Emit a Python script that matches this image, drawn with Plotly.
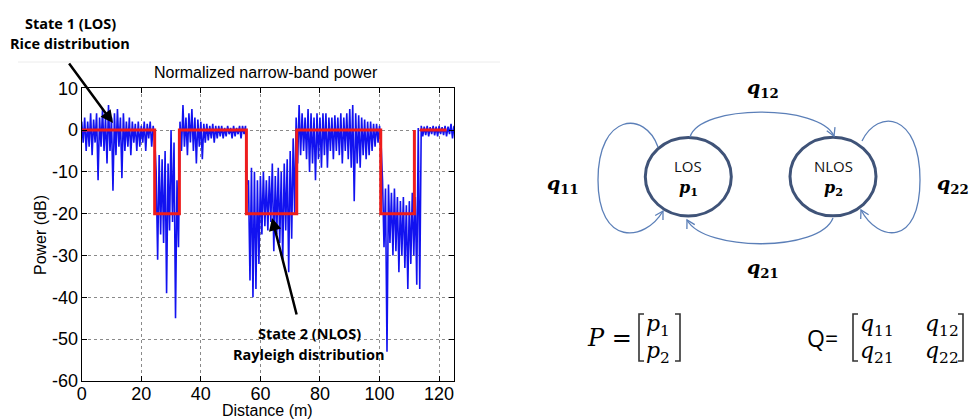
import math
import plotly.graph_objects as go

# ---------------- data ----------------
dist = list(range(0, 126))  # metres
hi = [2, 3, 2, 4, 2.5, 4, 3, 5, 3, 6, 3, 4, 5, 3, 4, 2, 3, 2, 1.5, 2, 1, 2, 1.5, 2, 1,
      -10, -6, -7, -5, -8, 0, -3, -12,
      2, 6, 3, 4, 5, 3, 2.5, 2, 1.5, 1.5, 1, 1.5, 1, 1, 1, 0.5, 1, 0.5, 1, 0.5, 1, 1, 1,
      -12, -9, -10, -12, -11, -10, -12, -11, -8, -11, -9, -10, -8, -7, -5, -2,
      3, 6, 4, 3, 5, 4, 3, 4, 3, 4, 4, 3, 3, 3.5, 3, 4, 3, 4, 5, 6, 4, 3.5, 3, 2.5, 2, 2, 1.5, 1.5, 1,
      -12, -14, -13, -15, -14, -16, -17, -16, -18, -17, -15, -16,
      0.5, 1, 0.8, 1, 0.7, 1, 0.8, 1, 0.7, 1, 0.8, 1.5, 1]
lo = [-3, -5, -4, -6, -3, -12, -4, -5, -8, -5, -14.5, -6, -4, -11.5, -5, -4, -6, -3, -5, -4, -3, -5, -2, -4, -2,
      -31, -25, -27, -39, -24, -22, -45, -28,
      -5, -4, -6, -3, -5, -8, -4, -7, -3, -2.5, -2, -3, -2, -1.5, -2, -1.5, -1, -2, -1.5, -1, -2, -1, -13,
      -36, -40, -38, -32, -25, -23, -24, -22, -29, -25, -27, -31, -24, -34, -26, -20,
      -8, -6, -5, -7, -10, -8, -12, -7, -9, -6, -9, -5, -7, -5, -6, -8, -5, -7, -9, -17, -8, -9, -6, -7, -6, -5, -4, -3, -3,
      -28, -53, -27, -30, -29, -34, -30, -33, -38, -32, -30, -37,
      -38, -1.5, -1.2, -1.5, -1, -1.3, -1.5, -1, -1.2, -1.5, -1, -2, -1.5]

# state model (red step line): change points and levels
state_x = [0, 24.5, 32.8, 55.3, 72.2, 100.4, 111.7, 113.5, 122.5]
state_level = [0, -20, 0, -20, 0, -20, 0, 0]

x_ticks = [0, 20, 40, 60, 80, 100, 120]
y_ticks = [-60, -50, -40, -30, -20, -10, 0, 10]
y_tick_labels = ["-60", "-50", "-40", "-30", "-20", "-10", "0", "10"]

# ---------------- build traces ----------------
zx, zy = [], []
for d, h, l in zip(dist, hi, lo):
    zx += [d, d + 0.5]
    zy += [h, l]

rx, ry = [], []
for i, lev in enumerate(state_level):
    x0, x1 = state_x[i], state_x[i + 1]
    if i == 6:  # final rise then a small gap before last segment
        rx += [x0, None]
        ry += [lev, None]
        continue
    if rx and rx[-1] is not None:
        rx.append(x0); ry.append(lev)
    rx += [x0, x1]
    ry += [lev, lev]

fig = go.Figure()
fig.add_trace(go.Scatter(x=zx, y=zy, mode="lines",
                         line=dict(color="#1212f0", width=1.6), hoverinfo="skip"))
fig.add_trace(go.Scatter(x=rx, y=ry, mode="lines",
                         line=dict(color="#ee1c1c", width=3), hoverinfo="skip"))

W, H = 971, 419
def px(x): return x / W
def py(y): return 1 - y / H

ax_left, ax_right, ax_top, ax_bot = 81.7, 454.0, 88.2, 381.0

fig.update_layout(
    width=W, height=H, margin=dict(l=0, r=0, t=0, b=0, autoexpand=False),
    paper_bgcolor="white", plot_bgcolor="white", showlegend=False,
    font=dict(family="Liberation Sans, Arial", color="black"),
    xaxis=dict(domain=[px(ax_left), px(ax_right)], range=[0, 125], tickvals=x_ticks,
               automargin=False, ticklabelstandoff=-4,
               showline=True, linecolor="black", linewidth=1, mirror="ticks",
               ticks="inside", ticklen=5, tickcolor="black",
               showgrid=True, gridcolor="#8a8a8a", griddash="dot", gridwidth=1,
               zeroline=False, tickfont=dict(size=18)),
    yaxis=dict(domain=[py(ax_bot), py(ax_top)], range=[-60, 10], tickvals=y_ticks,
               ticktext=y_tick_labels, automargin=False, ticklabelstandoff=-1,
               showline=True, linecolor="black", linewidth=1, mirror="ticks",
               ticks="inside", ticklen=5, tickcolor="black",
               showgrid=True, gridcolor="#8a8a8a", griddash="dot", gridwidth=1,
               zeroline=False, tickfont=dict(size=18)),
)

shapes = []
annotations = []

def note(x, y, text, font, xanchor="center", angle=0):
    annotations.append(dict(xref="paper", yref="paper", x=px(x), y=py(y), text=text,
                            showarrow=False, font=font, xanchor=xanchor, yanchor="middle",
                            textangle=angle))

# axis titles
note(267, 410, "Distance (m)", dict(size=16, family="Liberation Sans, Arial", color="black"))
note(40, 235, "Power (dB)", dict(size=16, family="Liberation Sans, Arial", color="black"), angle=-90)

# faint border line of the original matlab figure
shapes.append(dict(type="line", xref="paper", yref="paper", x0=px(18), x1=px(500),
                   y0=py(62), y1=py(62), line=dict(color="#ececec", width=1)))

note(266, 72, "Normalized narrow-band power", dict(size=16, family="Liberation Sans, Arial", color="black"))

bold_font = dict(size=14.5, family="Open Sans", color="black")
note(70, 23, "<b>State 1 (LOS)</b>", bold_font)
note(70, 44, "<b>Rice distribution</b>", bold_font)
note(309, 333, "<b>State 2 (NLOS)</b>", bold_font)
note(309, 354, "<b>Rayleigh distribution</b>", bold_font)

# pointer arrows
annotations.append(dict(xref="paper", yref="paper", x=px(113), y=py(123), text="",
                        showarrow=True, arrowhead=2, arrowsize=1, arrowwidth=2.5,
                        arrowcolor="black", ax=68 - 113, ay=62 - 123))
annotations.append(dict(xref="paper", yref="paper", x=px(272), y=py(218), text="",
                        showarrow=True, arrowhead=2, arrowsize=1, arrowwidth=2.5,
                        arrowcolor="black", ax=297 - 272, ay=316 - 218))

# ---------------- state diagram ----------------
def P(x, y):
    return f"{px(x):.5f},{py(y):.5f}"

def chevron(tip, frm, length=9, ang=30):
    dx, dy = tip[0] - frm[0], tip[1] - frm[1]
    n = math.hypot(dx, dy)
    bx, by = -dx / n, -dy / n
    pts = []
    for s in (1, -1):
        a = math.radians(ang * s)
        cx = bx * math.cos(a) - by * math.sin(a)
        cy = bx * math.sin(a) + by * math.cos(a)
        pts.append((tip[0] + cx * length, tip[1] + cy * length))
    return f"M {P(*pts[0])} L {P(*tip)} L {P(*pts[1])}"

arc_col = "#5b7fb8"
ring_col = "#3f5378"

# circles
for cx, cy in [(688.3, 176.7), (833.0, 176.5)]:
    shapes.append(dict(type="circle", xref="paper", yref="paper",
                       x0=px(cx - 43), x1=px(cx + 43), y0=py(cy + 39.3), y1=py(cy - 39.3),
                       line=dict(color=ring_col, width=3), fillcolor="rgba(0,0,0,0)"))

arcs = [
    # (start, c1, c2, end)
    ((690, 137), (700, 104), (820, 104), (834, 136)),   # q12
    ((833, 218), (820, 252), (705, 252), (687, 220)),   # q21
    ((658, 147), (645, 110), (598, 113), (598, 180)),   # q11 part a
    ((598, 180), (598, 247), (645, 242), (663, 211)),   # q11 part b
    ((862, 141), (878, 108), (920, 113), (920, 180)),   # q22 part a
    ((920, 180), (920, 247), (878, 242), (861, 210)),   # q22 part b
]
for s, c1, c2, e in arcs:
    shapes.append(dict(type="path", xref="paper", yref="paper",
                       path=f"M {P(*s)} C {P(*c1)} {P(*c2)} {P(*e)}",
                       line=dict(color=arc_col, width=1.3)))
for i in (0, 1, 3, 5):
    s, c1, c2, e = arcs[i]
    shapes.append(dict(type="path", xref="paper", yref="paper",
                       path=chevron(e, c2), line=dict(color=arc_col, width=1.3)))

qfont = dict(size=19, family="DejaVu Serif", color="black")
for txt, x, y in [("12", 763, 89), ("21", 763, 268), ("11", 563, 184), ("22", 953, 184)]:
    note(x, y, f"<b><i>q</i><sub>{txt}</sub></b>", qfont)

sfont = dict(size=15, family="Open Sans", color="#111111")
note(688, 166, "LOS", sfont)
note(833, 166, "NLOS", sfont)
pfont = dict(size=16, family="DejaVu Serif", color="black")
note(688, 189, "<b><i>p</i><sub>1</sub></b>", pfont)
note(833, 189, "<b><i>p</i><sub>2</sub></b>", pfont)

# ---------------- matrices ----------------
mfont = dict(size=22, family="DejaVu Serif", color="black")
note(585, 338, "<i>P</i> =", dict(size=24, family="DejaVu Serif", color="black"), xanchor="left")
note(805, 338, "Q=", dict(size=23, family="Open Sans", color="black"), xanchor="left")

def bracket(x, y0, y1, side):
    d = 5 if side == "L" else -5
    return dict(type="path", xref="paper", yref="paper",
                path=f"M {P(x + d, y0)} L {P(x, y0)} L {P(x, y1)} L {P(x + d, y1)}",
                line=dict(color="#333333", width=1.6))

shapes += [bracket(639, 314, 361, "L"), bracket(680, 314, 361, "R"),
           bracket(853, 314, 361, "L"), bracket(963, 314, 361, "R")]

for txt, x, y in [("<i>p</i><sub>1</sub>", 658, 325), ("<i>p</i><sub>2</sub>", 658, 352),
                  ("<i>q</i><sub>11</sub>", 877, 325), ("<i>q</i><sub>12</sub>", 942, 325),
                  ("<i>q</i><sub>21</sub>", 877, 352), ("<i>q</i><sub>22</sub>", 942, 352)]:
    note(x, y, txt, mfont)

fig.update_layout(shapes=shapes, annotations=annotations)
fig.write_html("out.html")
